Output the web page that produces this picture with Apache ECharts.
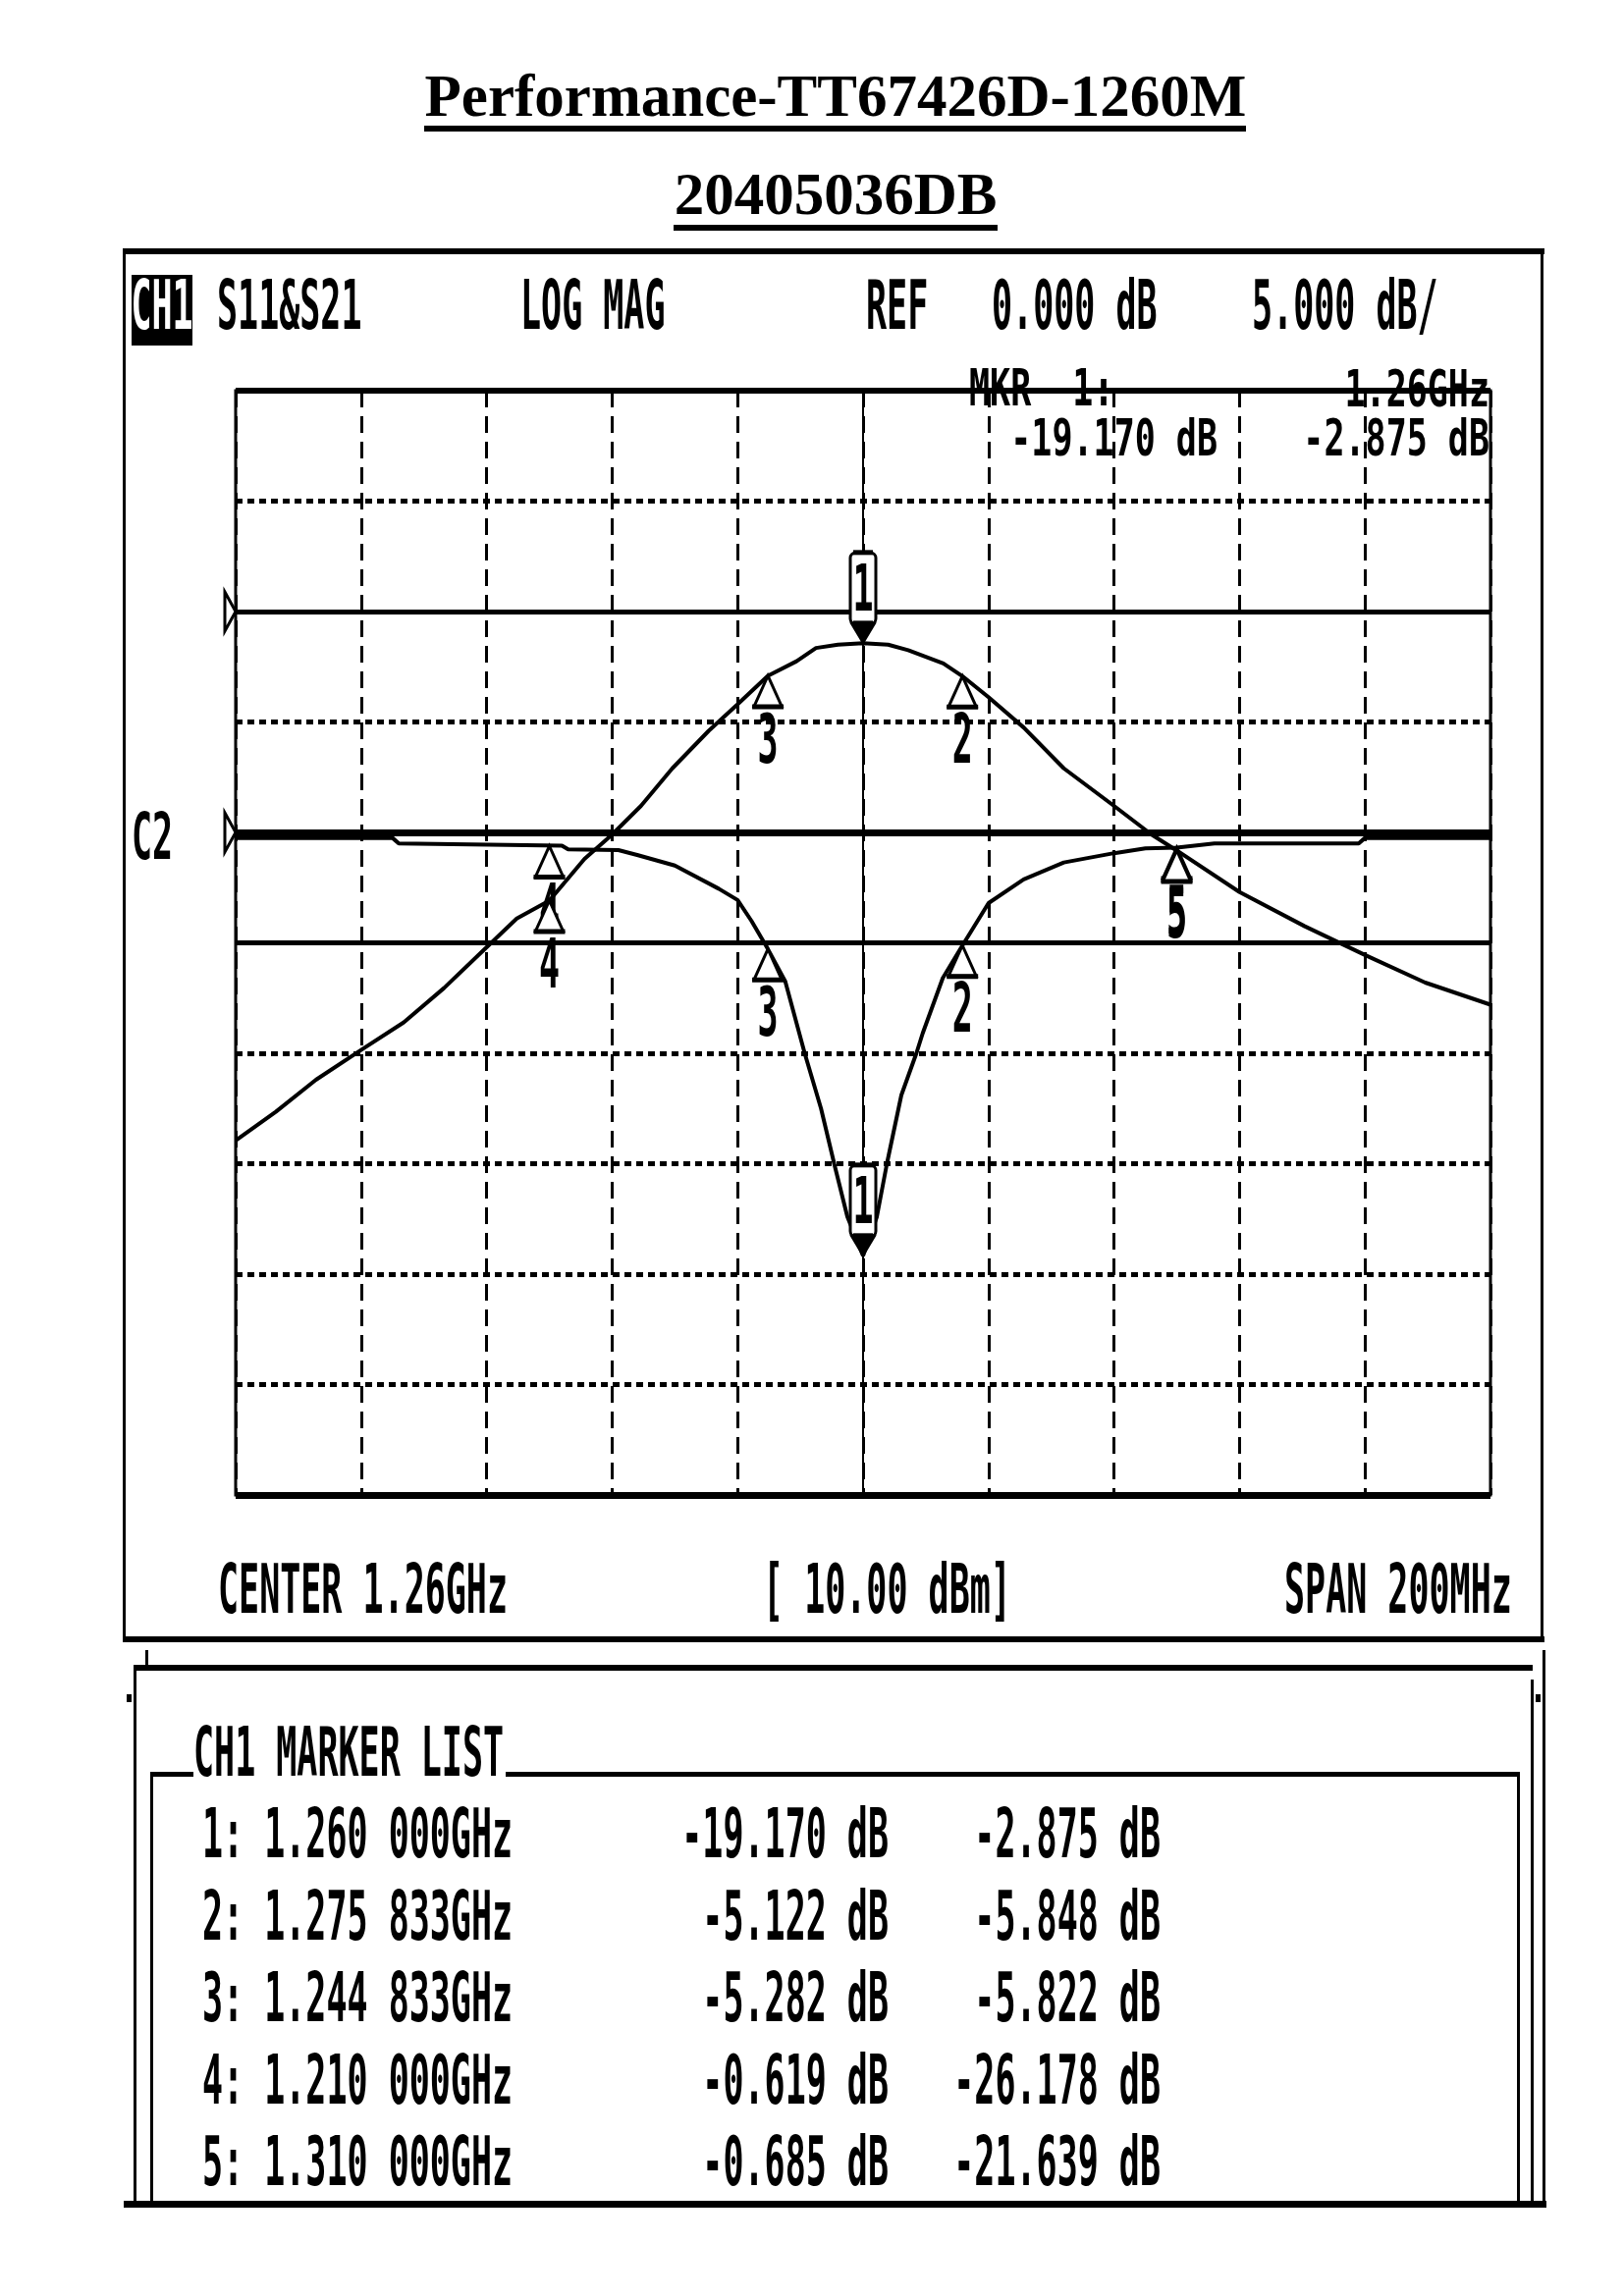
<!DOCTYPE html>
<html>
<head>
<meta charset="utf-8">
<script src="https://cdn.jsdelivr.net/npm/echarts/dist/echarts.min.js"></script>
<style>html,body{margin:0;padding:0;background:#fff}#c{width:1654px;height:2339px}</style>
</head>
<body>
<div id="c"></div>
<script>
// ---------------- DATA ----------------
const titleText = 'Performance-TT67426D-1260M';
const subtitleText = '20405036DB';

// S11 trace (MHz, dB)
const s11Freq = [1160, 1185, 1186, 1212, 1213, 1221, 1224, 1230, 1237, 1240, 1242.2, 1244.833, 1247.6, 1250.7, 1253.3, 1255.4, 1257.5, 1260, 1262.2, 1263.8, 1266.1, 1268.5, 1269.5, 1272.7, 1275.833, 1280, 1285.6, 1292, 1300, 1305, 1310, 1316, 1339, 1340, 1360];
const s11Val  = [-0.25, -0.25, -0.5, -0.6, -0.77, -0.8, -1.02, -1.5, -2.55, -3.06, -4.0, -5.282, -6.74, -10.0, -12.5, -15.0, -17.4, -19.17, -17.4, -15.0, -11.9, -10.0, -9.1, -6.6, -5.122, -3.2, -2.13, -1.36, -0.94, -0.72, -0.685, -0.5, -0.5, -0.25, -0.25];

// S21 trace (MHz, dB)
const s21Freq = [1160, 1166.4, 1172.8, 1180, 1186.8, 1193.2, 1200, 1204.8, 1210, 1215.6, 1220, 1224.6, 1229.6, 1235.4, 1240, 1244.833, 1249.4, 1252.5, 1256, 1260, 1264, 1267.2, 1272.8, 1275.833, 1280, 1285.6, 1292, 1300, 1306, 1310, 1320, 1330.4, 1340, 1349.6, 1360];
const s21Val  = [-47.9, -45.3, -42.4, -39.7, -37.2, -34.1, -30.4, -27.8, -26.178, -22.4, -20.2, -17.6, -14.2, -10.8, -8.4, -5.822, -4.5, -3.3, -3.0, -2.875, -3.0, -3.5, -4.7, -5.848, -7.75, -10.5, -14.2, -17.6, -20.2, -21.639, -25.4, -28.5, -31.1, -33.6, -35.6];

// Marker list
const markerNo      = [1, 2, 3, 4, 5];
const markerFreqGHz = [1.260000, 1.275833, 1.244833, 1.210000, 1.310000];
const markerS11     = [-19.170, -5.122, -5.282, -0.619, -0.685];
const markerS21     = [-2.875, -5.848, -5.822, -26.178, -21.639];

// Axis settings (MHz / dB)
const startMHz = 1160, stopMHz = 1360, xDivMHz = 20, centerMHz = 1260;
const s11Min = -30, s11Max = 20, s11Div = 5;   // 5 dB/div, ref 0 dB
const s21Min = -80, s21Max = 20, s21Div = 10;  // 10 dB/div, ref 0 dB
const limitS11 = -5;

// ---------------- HELPERS ----------------
const MONO = 'bold 35px "DejaVu Sans Mono"';
function txt(text, x, y, sy, align, fill) {
  align = align || 'left';
  return {type: 'text', x: x, y: y + 3 * sy, scaleY: sy, z: 60,
    style: {text: text, font: MONO, fill: fill || '#000',
      align: align, textAlign: align, verticalAlign: 'middle', textVerticalAlign: 'middle'}};
}
function serif(text, x, y) {
  return {type: 'text', x: x, y: y, z: 60,
    style: {text: text, font: 'bold 61px "Liberation Serif"', fill: '#000',
      align: 'center', textAlign: 'center', verticalAlign: 'middle', textVerticalAlign: 'middle'}};
}
function box(x, y, w, h) { return {type: 'rect', z: 55, shape: {x: x, y: y, width: w, height: h}, style: {fill: '#000'}}; }
function fmtFreq(f) { const s = f.toFixed(6); return s.slice(0, 5) + ' ' + s.slice(5); }
function fmtDb(v) { return v.toFixed(3) + ' dB'; }

const g = [];
// Titles
g.push(serif(titleText, 851, 102));
g.push(box(432, 128, 837, 6));
g.push(serif(subtitleText, 851, 202));
g.push(box(686, 229, 330, 6));

// Outer instrument frame
g.push(box(126, 253, 1447, 6));
g.push(box(126, 1667, 1447, 6));
g.push(box(125, 253, 3, 1420));
g.push(box(1569, 253, 3, 1420));

// Header
g.push(box(134, 280, 62, 72));
g.push(txt('CH1', 165, 311, 2.0, 'center', '#fff'));
g.push(txt('S11&S21', 221, 311, 2.0));
g.push(txt('LOG MAG', 530, 311, 2.0));
g.push(txt('REF', 882, 311, 2.0));
g.push(txt('0.000 dB', 1010, 311, 2.0));
g.push(txt(s11Div.toFixed(3) + ' dB/', 1275, 311, 2.0));
g.push(txt('MKR  ' + markerNo[0] + ':', 987, 395, 1.45));
g.push(txt(markerFreqGHz[0].toFixed(2) + 'GHz', 1517, 396, 1.45, 'right'));
g.push(txt(fmtDb(markerS11[0]), 1240, 446, 1.45, 'right'));
g.push(txt(fmtDb(markerS21[0]), 1517, 446, 1.45, 'right'));
g.push(txt('C2', 134, 852, 1.9));

// Footer of the display
g.push(txt('CENTER ' + (centerMHz / 1000).toFixed(2) + 'GHz', 222, 1619, 2.0));
g.push(txt('[ 10.00 dBm]', 777, 1619, 2.0));
g.push(txt('SPAN ' + (stopMHz - startMHz) + 'MHz', 1308, 1619, 2.0));

// Marker list frame
g.push(box(137, 1696, 1424, 6));
g.push(box(148, 1681, 3, 16));
g.push(box(136, 1696, 3, 547));
g.push(box(129, 1726, 5, 8));
g.push(box(1571, 1681, 3, 562));
g.push(box(1559, 1711, 3, 532));
g.push(box(1564, 1726, 5, 8));
g.push(box(154, 1805, 43, 5));
g.push(box(515, 1805, 1033, 5));
g.push(box(153, 1805, 3, 438));
g.push(box(1545, 1805, 3, 438));
g.push(box(126, 2242, 1449, 7));
g.push(txt('CH1 MARKER LIST', 197, 1785, 2.0));
const rowY = [1868, 1952, 2035, 2119, 2202];
for (let i = 0; i < markerNo.length; i++) {
  g.push(txt(markerNo[i] + ': ' + fmtFreq(markerFreqGHz[i]) + 'GHz', 206, rowY[i], 2.0));
  g.push(txt(fmtDb(markerS11[i]), 905, rowY[i], 2.0, 'right'));
  g.push(txt(fmtDb(markerS21[i]), 1182, rowY[i], 2.0, 'right'));
}

// ---------------- MARKER GLYPHS ----------------
function markerRender(params, api) {
  const p = api.coord([api.value(0), api.value(1)]);
  const n = api.value(2);
  const x = p[0], y = p[1];
  const st = {fill: '#fff', stroke: '#000', lineWidth: 3};
  if (n === 1) {
    return {type: 'group', children: [
      {type: 'polygon', shape: {points: [[x - 12, y - 20], [x + 12, y - 20], [x, y]]}, style: {fill: '#000', stroke: '#000', lineWidth: 2}},
      {type: 'rect', shape: {x: x - 13, y: y - 92, width: 26, height: 72, r: 5}, style: st},
      {type: 'rect', shape: {x: x - 10, y: y - 95, width: 20, height: 5}, style: {fill: '#000'}},
      {type: 'rect', shape: {x: x - 10, y: y - 23, width: 20, height: 5}, style: {fill: '#000'}},
      {type: 'text', x: x, y: y - 51, scaleY: 1.9, style: {text: String(n), font: MONO, fill: '#000', align: 'center', textAlign: 'center', verticalAlign: 'middle', textVerticalAlign: 'middle'}}
    ]};
  }
  return {type: 'group', children: [
    {type: 'polygon', shape: {points: [[x, y], [x - 14, y + 31], [x + 14, y + 31]]}, style: st},
    {type: 'rect', shape: {x: x - 16, y: y + 29, width: 32, height: 5}, style: {fill: '#000'}},
    {type: 'text', x: x, y: y + 70, scaleY: 2.0, style: {text: String(n), font: MONO, fill: '#000', align: 'center', textAlign: 'center', verticalAlign: 'middle', textVerticalAlign: 'middle'}}
  ]};
}
function refRender(params, api) {
  const p = api.coord([api.value(0), api.value(1)]);
  const x = p[0], y = p[1];
  return {type: 'polygon', shape: {points: [[x - 11, y - 20], [x, y], [x - 11, y + 20]]}, style: {fill: '#fff', stroke: '#000', lineWidth: 3}};
}

const s11Data = s11Freq.map((f, i) => [f, s11Val[i]]);
const s21Data = s21Freq.map((f, i) => [f, s21Val[i]]);
const m11 = markerNo.map((n, i) => [markerFreqGHz[i] * 1000, markerS11[i], n]);
const m21 = markerNo.map((n, i) => [markerFreqGHz[i] * 1000, markerS21[i], n]);

const mlBase = {silent: true, symbol: 'none', label: {show: false}, emphasis: {disabled: true}, animation: false};

const option = {
  animation: false,
  backgroundColor: '#fff',
  grid: {left: 240, top: 398, width: 1278, height: 1125, show: true, borderColor: '#000', borderWidth: 3, backgroundColor: 'transparent'},
  xAxis: {type: 'value', min: startMHz, max: stopMHz, interval: xDivMHz,
    axisLine: {show: false}, axisTick: {show: false}, axisLabel: {show: false},
    splitLine: {show: true, lineStyle: {color: '#000', width: 3, type: [17, 9]}}},
  yAxis: [
    {type: 'value', min: s11Min, max: s11Max, interval: s11Div,
      axisLine: {show: false}, axisTick: {show: false}, axisLabel: {show: false},
      splitLine: {show: true, lineStyle: {color: '#000', width: 5, type: [7, 5]}}},
    {type: 'value', min: s21Min, max: s21Max, interval: s21Div,
      axisLine: {show: false}, axisTick: {show: false}, axisLabel: {show: false}, splitLine: {show: false}}
  ],
  graphic: {elements: g},
  series: [
    {name: 'S11', type: 'line', yAxisIndex: 0, data: s11Data, symbol: 'none', smooth: false, z: 5,
      lineStyle: {color: '#000', width: 4}, silent: true,
      markLine: Object.assign({}, mlBase, {data: [
        {yAxis: 0, lineStyle: {color: '#000', width: 7, type: 'solid'}},
        {yAxis: limitS11, lineStyle: {color: '#000', width: 5, type: 'solid'}},
        {yAxis: s11Max, lineStyle: {color: '#000', width: 6, type: 'solid'}},
        {yAxis: s11Min, lineStyle: {color: '#000', width: 7, type: 'solid'}},
        {xAxis: centerMHz, lineStyle: {color: '#000', width: 2, type: 'solid'}}
      ]})},
    {name: 'S21', type: 'line', yAxisIndex: 1, data: s21Data, symbol: 'none', smooth: false, z: 5,
      lineStyle: {color: '#000', width: 4}, silent: true,
      markLine: Object.assign({}, mlBase, {data: [
        {yAxis: 0, lineStyle: {color: '#000', width: 5, type: 'solid'}}
      ]})},
    {type: 'custom', yAxisIndex: 0, data: [[startMHz, 0]], renderItem: refRender, clip: false, silent: true, z: 8},
    {type: 'custom', yAxisIndex: 1, data: [[startMHz, 0]], renderItem: refRender, clip: false, silent: true, z: 8},
    {type: 'custom', yAxisIndex: 0, data: m11, renderItem: markerRender, clip: false, silent: true, z: 10},
    {type: 'custom', yAxisIndex: 1, data: m21, renderItem: markerRender, clip: false, silent: true, z: 11}
  ]
};
const chart = echarts.init(document.getElementById('c'), null, {renderer: 'canvas'});
chart.setOption(option);
</script>
</body>
</html>
